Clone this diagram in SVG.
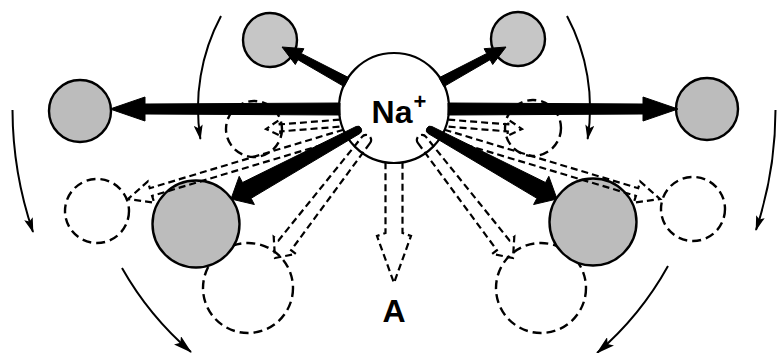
<svg xmlns="http://www.w3.org/2000/svg" width="778" height="353" viewBox="0 0 778 353">
  <style>
    .ion { fill: #ffffff; stroke: #000; stroke-width: 2.2; }
    .occ { fill: #bcbcbc; stroke: #000; stroke-width: 2.4; }
    .occ-top { fill: #c6c6c6; stroke: #000; stroke-width: 2.4; }
    .vac { fill: none; stroke: #000; stroke-width: 2.4; stroke-dasharray: 9 5; }
    .solid { fill: #000; stroke: #000; stroke-width: 1; stroke-linejoin: round; }
    .hollow { fill: none; stroke: #000; stroke-width: 2.2; stroke-dasharray: 7 4; stroke-linejoin: miter; }
    .turn { fill: none; stroke: #000; stroke-width: 2; }
    .lbl { font-family: "Liberation Sans", Arial, sans-serif; font-weight: bold; fill: #000; }
  </style>
  <defs>
    <marker id="headS" viewBox="0 0 15 9" refX="14" refY="4.5" markerWidth="15" markerHeight="9" orient="auto" markerUnits="userSpaceOnUse">
      <path d="M0,0 L15,4.5 L0,9 L3,4.5 z" fill="#000"/>
    </marker>
    <marker id="headL" viewBox="0 0 19 11" refX="18" refY="5.5" markerWidth="19" markerHeight="11" orient="auto" markerUnits="userSpaceOnUse">
      <path d="M0,0 L19,5.5 L0,11 L4,5.5 z" fill="#000"/>
    </marker>
  </defs>

  <!-- rotation arcs around the central ion -->
  <g id="rotation">
    <path class="turn" d="M 221 16 A 196 196 0 0 0 200.4 139" marker-end="url(#headS)"/>
    <path class="turn" d="M 567 16 A 196 196 0 0 1 587.6 139" marker-end="url(#headS)"/>
    <path class="turn" d="M 12.5 110 A 381.5 381.5 0 0 0 33 232" marker-end="url(#headS)"/>
    <path class="turn" d="M 775.5 110 A 381.5 381.5 0 0 1 756 230" marker-end="url(#headS)"/>
    <path class="turn" d="M 122 268 A 316 316 0 0 0 191 352" marker-end="url(#headL)"/>
    <path class="turn" d="M 668 266 A 317 317 0 0 1 597 353" marker-end="url(#headL)"/>
  </g>

  <!-- vacant sites (dashed) -->
  <g id="vac-upper-left"><circle class="vac" cx="254" cy="129" r="28"/></g>
  <g id="vac-upper-right"><circle class="vac" cx="533" cy="128" r="28"/></g>
  <g id="vac-far-left"><circle class="vac" cx="97" cy="211" r="32"/></g>
  <g id="vac-far-right"><circle class="vac" cx="693" cy="209" r="32"/></g>
  <g id="vac-lower-left"><circle class="vac" cx="248" cy="288" r="45"/></g>
  <g id="vac-lower-right"><circle class="vac" cx="541" cy="288" r="45"/></g>

  <!-- occupied sites (grey) -->
  <g id="occ-top-left"><circle class="occ-top" cx="270" cy="40" r="27"/></g>
  <g id="occ-top-right"><circle class="occ-top" cx="518" cy="39" r="27"/></g>
  <g id="occ-left"><circle class="occ" cx="80" cy="111" r="31"/></g>
  <g id="occ-right"><circle class="occ" cx="707" cy="109" r="31"/></g>
  <g id="occ-lower-left"><circle class="occ" cx="196" cy="224" r="43.5"/></g>
  <g id="occ-lower-right"><circle class="occ" cx="593" cy="222" r="43.5"/></g>

  <!-- central ion -->
  <g id="na-ion">
    <circle class="ion" cx="394" cy="108" r="55"/>
    <text class="lbl" x="392" y="123" font-size="32" text-anchor="middle">Na</text>
    <text class="lbl" x="420" y="109" font-size="22" text-anchor="middle">+</text>
  </g>

  <!-- jumps out of the ion site -->
  <g id="connectors">
    <!-- filled arrows -->
    <path class="solid" d="M 340 103 L 145 104 L 145 97 L 110 109 L 145 121 L 145 114 L 340 115 Z"/>
    <path class="solid" d="M 448 103 L 643 104 L 643 97 L 678 109 L 643 121 L 643 114 L 448 115 Z"/>
    <path class="solid" d="M 349.0 77.8 L 301.3 53.5 L 303.9 48.7 L 282 47 L 295.3 64.5 L 297.9 59.7 L 344.2 86.6 Z"/>
    <path class="solid" d="M 439.0 77.8 L 486.7 53.5 L 484.1 48.7 L 506 47 L 492.7 64.5 L 490.1 59.7 L 443.8 86.6 Z"/>
    <path class="solid" d="M 356.1 126.5 L 242.5 182.5 L 239.2 176.3 L 231 199 L 254.4 204.5 L 251.1 198.3 L 359.9 133.5 A 4 4 0 0 0 356.1 126.5 Z"/>
    <path class="solid" d="M 431.9 126.5 L 545.5 182.5 L 548.8 176.3 L 557 199 L 533.6 204.5 L 536.9 198.3 L 428.1 133.5 A 4 4 0 0 1 431.9 126.5 Z"/>

    <!-- hollow dashed arrows -->
    <path class="hollow" d="M 339.8 119.6 L 279.7 124.4 L 279.3 119.9 L 266 129 L 280.6 135.9 L 280.2 131.4 L 342.2 126.5"/>
    <path class="hollow" d="M 448.2 119.6 L 508.3 124.4 L 508.7 119.9 L 522 129 L 507.4 135.9 L 507.8 131.4 L 445.8 126.5"/>
    <path class="hollow" d="M 343.5 129.7 L 149.8 188.2 L 147.8 181.5 L 128 199 L 154.2 202.6 L 152.1 195.9 L 347.5 137.3"/>
    <path class="hollow" d="M 444.5 129.7 L 638.2 188.2 L 640.2 181.5 L 660 199 L 633.8 202.6 L 635.9 195.9 L 440.5 137.3"/>
    <path class="hollow" d="M 370.0 143.1 L 291.1 250.2 L 295.9 253.9 L 275 258 L 273.7 236.8 L 278.5 240.4 L 362.0 136.9 A 5 5 0 0 1 370.0 143.1"/>
    <path class="hollow" d="M 418.0 143.1 L 496.9 250.2 L 492.1 253.9 L 513 258 L 514.3 236.8 L 509.5 240.4 L 426.0 136.9 A 5 5 0 0 0 418.0 143.1"/>
    <path class="hollow" d="M 385.5 162.3 L 385.5 233 L 377 236 L 394 283 L 411 236 L 402.5 233 L 402.5 162.3"/>
  </g>

  <g id="label-a">
    <text class="lbl" x="394" y="322" font-size="32" text-anchor="middle">A</text>
  </g>
</svg>
